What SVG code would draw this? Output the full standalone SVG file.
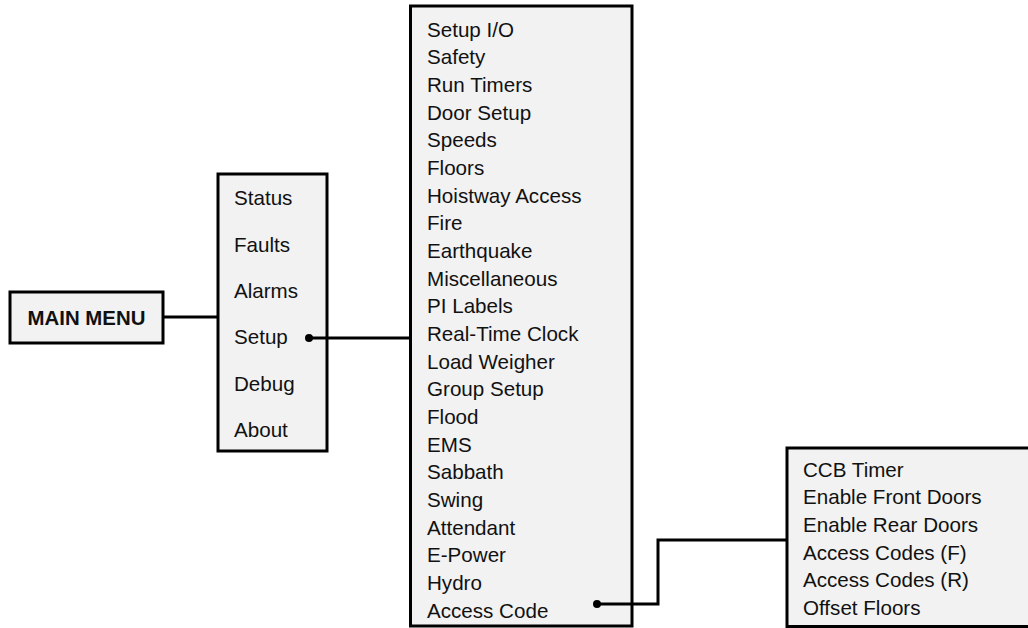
<svg xmlns="http://www.w3.org/2000/svg" width="1028" height="628" viewBox="0 0 1028 628">
<style>
.box{fill:#f2f2f2;stroke:#000;stroke-width:3}
.t{font-family:"Liberation Sans",Arial,sans-serif;font-size:20.6px;fill:#111}
.b{font-family:"Liberation Sans",Arial,sans-serif;font-size:20.4px;font-weight:bold;fill:#111}
.c{fill:none;stroke:#000;stroke-width:3}
</style>
<rect width="1028" height="628" fill="#fff"/>
<g id="main-menu">
<rect class="box" x="10" y="292" width="153" height="51"/>
<text class="b" x="86.5" y="324.5" text-anchor="middle">MAIN MENU</text>
</g>
<g id="menu">
<rect class="box" x="218" y="174" width="109" height="277"/>
<text class="t" x="234" y="205">Status</text>
<text class="t" x="234" y="251.5">Faults</text>
<text class="t" x="234" y="298">Alarms</text>
<text class="t" x="234" y="344">Setup</text>
<text class="t" x="234" y="390.5">Debug</text>
<text class="t" x="234" y="437">About</text>
</g>
<g id="setup-menu">
<rect class="box" x="410.5" y="6" width="221.5" height="620"/>
<text class="t" x="427" y="36.7">Setup I/O</text>
<text class="t" x="427" y="64.4">Safety</text>
<text class="t" x="427" y="92">Run Timers</text>
<text class="t" x="427" y="119.7">Door Setup</text>
<text class="t" x="427" y="147.3">Speeds</text>
<text class="t" x="427" y="175">Floors</text>
<text class="t" x="427" y="202.7">Hoistway Access</text>
<text class="t" x="427" y="230.3">Fire</text>
<text class="t" x="427" y="258">Earthquake</text>
<text class="t" x="427" y="285.6">Miscellaneous</text>
<text class="t" x="427" y="313.3">PI Labels</text>
<text class="t" x="427" y="341">Real-Time Clock</text>
<text class="t" x="427" y="368.6">Load Weigher</text>
<text class="t" x="427" y="396.3">Group Setup</text>
<text class="t" x="427" y="424">Flood</text>
<text class="t" x="427" y="451.6">EMS</text>
<text class="t" x="427" y="479.3">Sabbath</text>
<text class="t" x="427" y="507">Swing</text>
<text class="t" x="427" y="534.6">Attendant</text>
<text class="t" x="427" y="562.3">E-Power</text>
<text class="t" x="427" y="590">Hydro</text>
<text class="t" x="427" y="617.6">Access Code</text>
</g>
<g id="access-code-menu">
<rect class="box" x="787" y="448" width="250" height="178.5"/>
<text class="t" x="803" y="476.7">CCB Timer</text>
<text class="t" x="803" y="504.3">Enable Front Doors</text>
<text class="t" x="803" y="532">Enable Rear Doors</text>
<text class="t" x="803" y="559.7">Access Codes (F)</text>
<text class="t" x="803" y="587.3">Access Codes (R)</text>
<text class="t" x="803" y="615">Offset Floors</text>
</g>
<g id="connectors">
<path class="c" d="M163 317H218"/>
<path class="c" d="M309 338H410"/>
<path class="c" d="M597 604H658V540H787"/>
<circle cx="309" cy="338" r="4"/>
<circle cx="597" cy="604" r="4"/>
</g>
</svg>
